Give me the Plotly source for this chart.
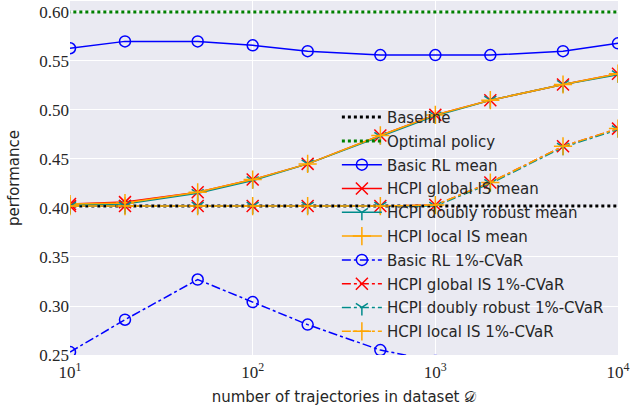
import plotly.graph_objects as go

n_traj = [10, 20, 50, 100, 200, 500, 1000, 2000, 5000, 10000]
baseline = 0.402
optimal = 0.600

basic_mean = [0.563, 0.570, 0.570, 0.566, 0.560, 0.556, 0.556, 0.556, 0.560, 0.568]
global_mean = [0.404, 0.406, 0.416, 0.429, 0.445, 0.474, 0.495, 0.510, 0.526, 0.537]
dr_mean = [0.403, 0.404, 0.415, 0.428, 0.445, 0.473, 0.494, 0.510, 0.526, 0.536]
local_mean = [0.404, 0.405, 0.416, 0.429, 0.445, 0.474, 0.495, 0.510, 0.526, 0.537]

basic_cvar = [0.253, 0.286, 0.327, 0.304, 0.281, 0.255, 0.244, 0.230, 0.220, 0.210]
global_cvar = [0.402, 0.402, 0.402, 0.402, 0.402, 0.402, 0.403, 0.426, 0.463, 0.481]
dr_cvar = [0.402, 0.402, 0.402, 0.402, 0.402, 0.402, 0.402, 0.425, 0.462, 0.480]
local_cvar = [0.402, 0.402, 0.402, 0.402, 0.402, 0.402, 0.403, 0.426, 0.463, 0.481]

x_ticks = [10, 100, 1000, 10000]
x_ticktext = ["10<sup>1</sup>", "10<sup>2</sup>", "10<sup>3</sup>", "10<sup>4</sup>"]
y_ticks = [0.25, 0.30, 0.35, 0.40, 0.45, 0.50, 0.55, 0.60]

BLUE = "#0000ff"
RED = "#ff0000"
TEAL = "#008b8b"
ORANGE = "#ffa500"

fig = go.Figure()

x_full = [1, 100000]
fig.add_trace(go.Scatter(x=x_full, y=[baseline, baseline], mode="lines", name="Baseline",
                         legendgroup="g0",
                         line=dict(color="black", width=3, dash="dot")))
fig.add_trace(go.Scatter(x=x_full, y=[optimal, optimal], mode="lines", name="Optimal policy",
                         legendgroup="g1",
                         line=dict(color="#008000", width=3, dash="dot")))

_count = [2]
def add(y, name, color, symbol, dash, msize):
    fig.add_trace(go.Scatter(
        x=n_traj, y=y, mode="lines+markers", name=name,
        legendgroup="g%d" % _count[0],
        line=dict(color=color, width=1.5, dash=dash),
        marker=dict(symbol=symbol, size=msize, color=color,
                    line=dict(color=color, width=1.5)),
    ))
    _count[0] += 1

add(basic_mean, "Basic RL mean", BLUE, "circle-open", "solid", 11)
add(global_mean, "HCPI global IS mean", RED, "x-thin-open", "solid", 12)
add(dr_mean, "HCPI doubly robust mean", TEAL, "y-down-open", "solid", 10)
add(local_mean, "HCPI local IS mean", ORANGE, "cross-thin-open", "solid", 13)
add(basic_cvar, "Basic RL 1%-CVaR", BLUE, "circle-open", "dashdot", 11)
add(global_cvar, "HCPI global IS 1%-CVaR", RED, "x-thin-open", "dashdot", 12)
add(dr_cvar, "HCPI doubly robust 1%-CVaR", TEAL, "y-down-open", "dashdot", 10)
add(local_cvar, "HCPI local IS 1%-CVaR", ORANGE, "cross-thin-open", "dashdot", 13)

fig.update_layout(
    width=630, height=412,
    margin=dict(l=70, r=12, t=1, b=57, autoexpand=False),
    plot_bgcolor="#eaeaf2",
    paper_bgcolor="white",
    font=dict(family="DejaVu Sans", size=15, color="#262626"),
    showlegend=True,
    legend=dict(x=0.487, y=0.718, xanchor="left", yanchor="top",
                bgcolor="rgba(0,0,0,0)", font=dict(size=15, color="#262626"),
                traceorder="grouped", tracegroupgap=1.3, itemwidth=40),
)
fig.update_xaxes(
    type="log", range=[1, 4], automargin=False,
    tickvals=x_ticks, ticktext=x_ticktext,
    tickfont=dict(family="Liberation Serif", size=17, color="#262626"),
    showgrid=True, gridcolor="white", gridwidth=1.2,
    zeroline=False, showline=False, ticks="", ticklabelstandoff=5,
    title=dict(text="number of trajectories in dataset 𝒟", font=dict(size=15), standoff=10),
)
fig.update_yaxes(
    range=[0.25, 0.6112], automargin=False,
    tickvals=y_ticks, tickformat=".2f",
    tickfont=dict(family="Liberation Serif", size=17, color="#262626"),
    showgrid=True, gridcolor="white", gridwidth=1.2,
    zeroline=False, showline=False, ticks="",
    title=dict(text="performance", font=dict(size=15), standoff=16),
)

fig.write_html("out.html", config={"displayModeBar": False},
               post_script="document.body.style.margin='0';")
